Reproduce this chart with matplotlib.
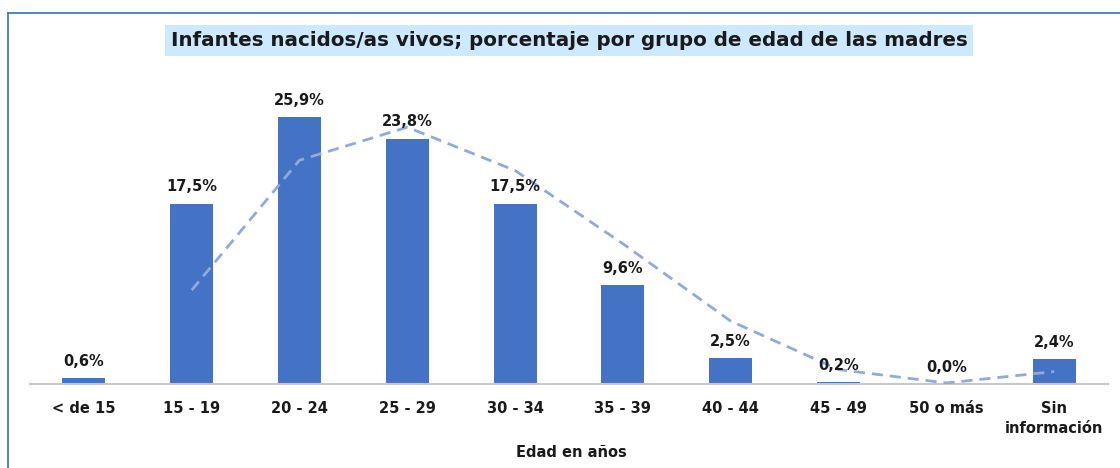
import matplotlib.pyplot as plt
from matplotlib.lines import Line2D
import numpy as np

categorias = ['< de 15', '15 - 19', '20 - 24', '25 - 29', '30 - 34',
              '35 - 39', '40 - 44', '45 - 49', '50 o más', 'Sin\ninformación']
porcentajes = [0.6, 17.5, 25.9, 23.8, 17.5, 9.6, 2.5, 0.2, 0.0, 2.4]
# media movil de 2 periodos, empieza en la 2a categoria
tendencia = [9.1, 21.7, 24.9, 20.7, 13.6, 6.1, 1.4, 0.1, 1.2]

plt.rcParams['font.family'] = ['DejaVu Sans']

fig = plt.figure(figsize=(11.2, 4.68), dpi=100)
ax = fig.add_axes([0.0268, 0.1795, 0.9625, 0.617])

x = np.arange(len(categorias))
ax.bar(x, porcentajes, width=0.4, color='#4472C4', zorder=2)
ax.plot(x[1:], tendencia, color='#8FAADC', linestyle='--', linewidth=2,
        dashes=(4, 2.5), zorder=3)

for xi, v in zip(x, porcentajes):
    ax.text(xi, v + 0.9, f'{v:.1f}%'.replace('.', ','), ha='center', va='bottom',
            fontsize=10.5, fontweight='bold', color='#1a1a1a', zorder=4)

ax.set_xlim(-0.5, len(categorias) - 0.5)
ax.set_ylim(0, 28)
ax.set_yticks([])
for s in ['top', 'right', 'left']:
    ax.spines[s].set_visible(False)
ax.spines['bottom'].set_color('#C8C8C8')
ax.spines['bottom'].set_linewidth(1.5)
ax.set_xticks(x)
ax.set_xticklabels(categorias, fontsize=10.5, fontweight='bold', color='#1a1a1a',
                   linespacing=1.45, va='top')
ax.tick_params(axis='x', length=0, pad=12)

fig.text(0.51, 0.034, 'Edad en años', ha='center', va='center',
         fontsize=10.5, fontweight='bold', color='#1a1a1a')

fig.text(0.508, 0.914, 'Infantes nacidos/as vivos; porcentaje por grupo de edad de las madres',
         ha='center', va='center', fontsize=14.3, fontweight='bold', color='#1a1a1a',
         bbox=dict(boxstyle='square,pad=0.3', facecolor='#CCE9FF', edgecolor='none'))

# marco azul (arriba e izquierda)
fig.add_artist(Line2D([0.0071, 1.0], [0.972, 0.972], color='#2E75B6', linewidth=1.2))
fig.add_artist(Line2D([0.0071, 0.0071], [0.0, 0.972], color='#2E75B6', linewidth=1.2))

fig.savefig('out.png', dpi=100)
